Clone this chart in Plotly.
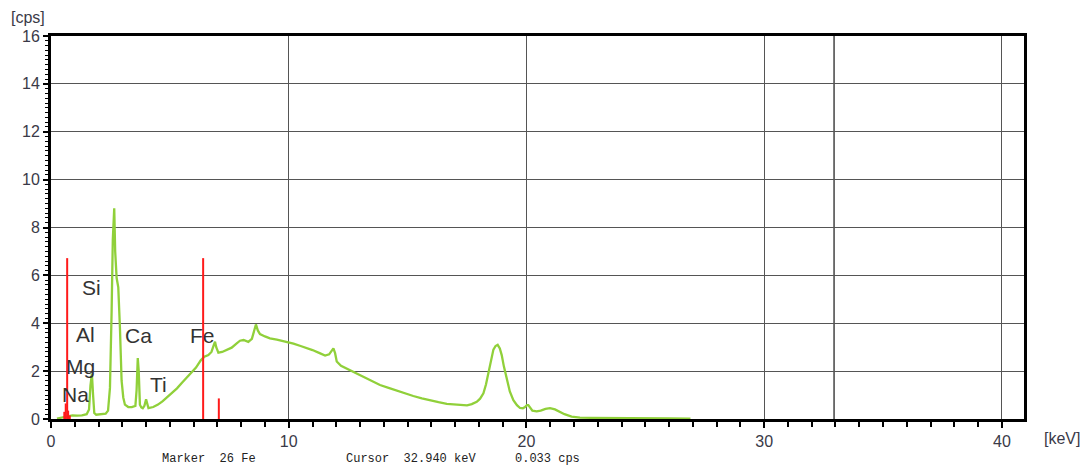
import plotly.graph_objects as go

# ---- spectrum data (keV, cps) ----
energy_kev = [0.25, 0.38, 0.55, 0.7, 0.9, 1.1, 1.3, 1.5, 1.6, 1.66, 1.72, 1.77, 1.82, 1.9, 2.1, 2.3,
              2.4, 2.48, 2.55, 2.6, 2.66, 2.7, 2.76, 2.83, 2.9, 2.97, 3.04, 3.11, 3.25, 3.4, 3.55,
              3.6, 3.65, 3.69, 3.74, 3.8, 3.86, 3.93, 4.0, 4.05, 4.1, 4.3, 4.5, 4.7, 4.9, 5.1, 5.3,
              5.5, 5.7, 5.9, 6.1, 6.3, 6.45, 6.62, 6.75, 6.85, 6.9, 6.95, 7.04, 7.2, 7.4, 7.6, 7.8,
              7.95, 8.1, 8.3, 8.45, 8.55, 8.62, 8.7, 8.79, 9.0, 9.21, 9.5, 9.8, 10.0, 10.2, 10.5,
              10.8, 11.0, 11.3, 11.53, 11.7, 11.82, 11.88, 11.95, 12.02, 12.2, 12.44, 12.8, 13.14,
              13.5, 13.84, 14.2, 14.54, 14.9, 15.24, 15.6, 15.94, 16.3, 16.65, 17.0, 17.3, 17.5,
              17.7, 17.91, 18.05, 18.19, 18.3, 18.4, 18.5, 18.61, 18.7, 18.79, 18.88, 18.96, 19.05,
              19.17, 19.3, 19.45, 19.6, 19.73, 19.85, 19.94, 20.02, 20.08, 20.15, 20.25, 20.43,
              20.6, 20.8, 20.99, 21.2, 21.41, 21.6, 21.9, 22.25, 22.7, 23.2, 24.0, 25.0, 26.0, 26.9]
counts_cps = [0.02, 0.05, 0.1, 0.12, 0.15, 0.14, 0.15, 0.2, 0.4, 1.4, 1.9, 1.0, 0.25, 0.18, 0.2, 0.22,
              0.35, 1.3, 4.5, 7.5, 8.8, 7.0, 5.9, 5.5, 3.8, 1.6, 0.9, 0.6, 0.5, 0.5, 0.55,
              1.2, 2.55, 2.0, 0.6, 0.48, 0.45, 0.55, 0.82, 0.6, 0.45, 0.5, 0.6, 0.75, 0.92, 1.08, 1.28,
              1.5, 1.72, 1.95, 2.15, 2.45, 2.6, 2.67, 2.8, 3.1, 3.23, 3.0, 2.77, 2.8, 2.9, 2.98, 3.15,
              3.27, 3.3, 3.22, 3.35, 3.75, 3.95, 3.7, 3.55, 3.45, 3.37, 3.32, 3.25, 3.2, 3.15, 3.05,
              2.95, 2.88, 2.75, 2.65, 2.7, 2.85, 2.95, 2.75, 2.4, 2.22, 2.1, 1.93, 1.77,
              1.6, 1.42, 1.3, 1.18, 1.07, 0.96, 0.86, 0.77, 0.7, 0.63, 0.6, 0.57, 0.57,
              0.62, 0.72, 0.85, 1.07, 1.45, 1.95, 2.45, 2.9, 3.05, 3.1, 2.95, 2.67, 2.2,
              1.63, 1.15, 0.79, 0.58, 0.46, 0.45, 0.5, 0.58, 0.58, 0.5, 0.35, 0.32,
              0.35, 0.42, 0.45, 0.4, 0.3, 0.2, 0.1, 0.06, 0.05, 0.05, 0.04, 0.03, 0.03, 0.01]

# ---- Fe marker lines (keV, relative height in cps) ----
marker_kev = [0.56, 0.62, 0.68, 0.72, 0.79, 6.40, 7.06]
marker_cps = [0.3, 0.65, 6.72, 0.35, 0.15, 6.72, 0.86]

# ---- element labels ----
element_names = ["Si", "Al", "Mg", "Na", "Ca", "Ti", "Fe"]
label_kev = [1.72, 1.45, 1.24, 1.03, 3.66, 4.52, 6.39]
label_cps = [5.48, 3.51, 2.21, 1.02, 3.47, 1.46, 3.47]

cursor_kev = 32.94
cursor_cps = 0.033
marker_text = "Marker  26 Fe"

x_max = 40.93
y_max = 16

fig = go.Figure()

fig.add_trace(go.Scatter(x=energy_kev, y=counts_cps, mode="lines",
                         line=dict(color="#90d03a", width=2.3), hoverinfo="skip"))

mx, my = [], []
for e, c in zip(marker_kev, marker_cps):
    mx += [e, e, None]
    my += [0, c, None]
fig.add_trace(go.Scatter(x=mx, y=my, mode="lines",
                         line=dict(color="#ff1a1a", width=2), hoverinfo="skip"))

for name, xe, yc in zip(element_names, label_kev, label_cps):
    fig.add_annotation(x=xe, y=yc, text=name, showarrow=False,
                       font=dict(family="Liberation Sans, Arial", size=21, color="#333333"))

fig.add_shape(type="line", x0=cursor_kev, x1=cursor_kev, y0=0, y1=y_max,
              xref="x", yref="y", line=dict(color="#444444", width=1.5), layer="below")

tickfont = dict(family="Liberation Sans, Arial", size=16, color="#3a3a48")

fig.update_xaxes(range=[0, x_max], dtick=10, tick0=0, showgrid=True, gridcolor="#555555",
                 gridwidth=1, zeroline=False, showline=True, linecolor="black", linewidth=3,
                 mirror=True, ticks="outside", ticklen=6, tickwidth=1.5, tickcolor="black",
                 tickfont=tickfont,
                 minor=dict(dtick=1, ticks="outside", ticklen=5, tickwidth=1.5,
                            tickcolor="black", showgrid=False))
fig.update_yaxes(range=[0, y_max], dtick=2, tick0=0, showgrid=True, gridcolor="#555555",
                 gridwidth=1, zeroline=False, showline=True, linecolor="black", linewidth=3,
                 mirror=True, ticks="outside", ticklen=5, tickwidth=1.5, tickcolor="black",
                 tickfont=tickfont,
                 minor=dict(dtick=0.2, ticks="outside", ticklen=3, tickwidth=1,
                            tickcolor="black", showgrid=False))

fig.add_annotation(xref="paper", yref="paper", x=-0.024, y=1.047, text="[cps]",
                   showarrow=False, font=tickfont, xanchor="center", yanchor="middle")
fig.add_annotation(xref="paper", yref="paper", x=1.039, y=-0.05, text="[keV]",
                   showarrow=False, font=tickfont, xanchor="center", yanchor="middle")

monofont = dict(family="Liberation Mono, monospace", size=12, color="#222222")
fig.add_annotation(xref="paper", yref="paper", x=0.112, y=-0.104, text=marker_text,
                   showarrow=False, font=monofont, xanchor="left", yanchor="middle")
fig.add_annotation(xref="paper", yref="paper", x=0.301, y=-0.104,
                   text=f"Cursor  {cursor_kev:.3f} keV", showarrow=False, font=monofont,
                   xanchor="left", yanchor="middle")
fig.add_annotation(xref="paper", yref="paper", x=0.475, y=-0.104,
                   text=f"{cursor_cps:.3f} cps", showarrow=False, font=monofont,
                   xanchor="left", yanchor="middle")

fig.update_layout(width=1086, height=468, margin=dict(l=51, r=62, t=36, b=49),
                  paper_bgcolor="white", plot_bgcolor="white", showlegend=False)

fig.write_html("out.html", config={"displayModeBar": False},
               post_script="document.body.style.margin='0';document.body.style.padding='0';")
